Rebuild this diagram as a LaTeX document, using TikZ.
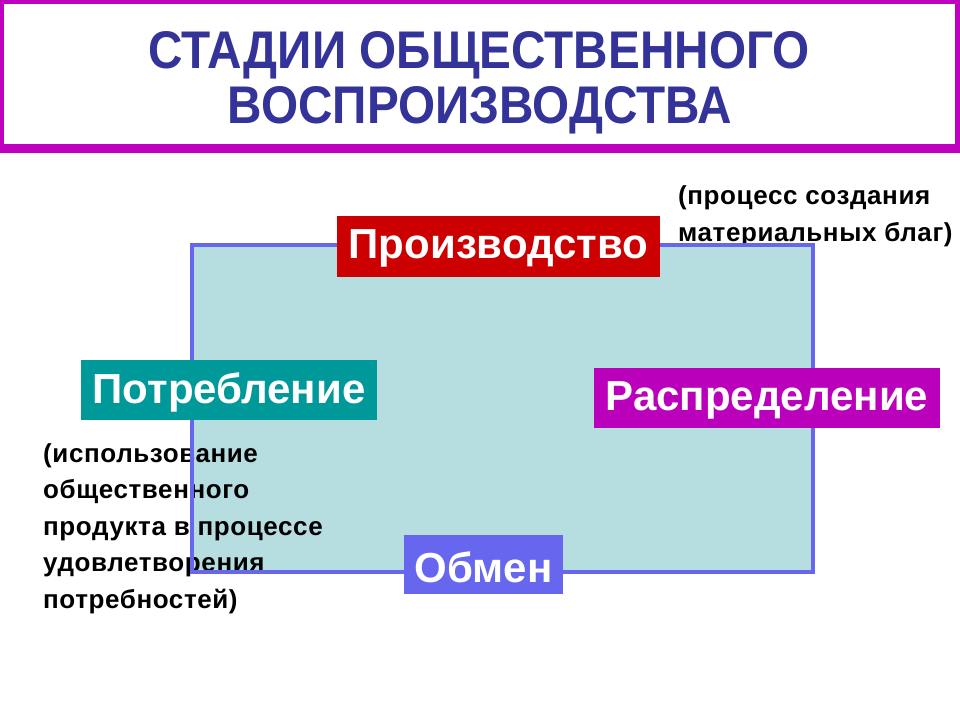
\documentclass[tikz,border=0pt]{standalone}
\usepackage{fontspec}
\setmainfont{Liberation Sans}
\newfontfamily\titlefont[FakeStretch=0.9]{Liberation Sans Bold}
\newfontfamily\boxfont{Liberation Sans Bold}
\newfontfamily\annfont[LetterSpace=2.3]{Liberation Sans Bold}
\definecolor{titlemag}{HTML}{C000C0}
\definecolor{titleblue}{HTML}{333399}
\definecolor{rectfill}{HTML}{B6DEE0}
\definecolor{rectline}{HTML}{6666EE}
\definecolor{prodred}{HTML}{CC0000}
\definecolor{distmag}{HTML}{BB00BB}
\definecolor{consteal}{HTML}{009999}
\definecolor{exchblue}{HTML}{6666EE}
\tikzset{
  stage/.style={inner sep=0pt, text=white, font=\boxfont\fontsize{42}{42}\selectfont},
  ann/.style={inner sep=0pt, align=left, anchor=base west, font=\annfont\fontsize{26}{36.5}\selectfont}
}
\begin{document}
\begin{tikzpicture}[x=1pt,y=-1pt]
\useasboundingbox (0,0) rectangle (960,720);
\fill[white] (0,0) rectangle (960,720);
% title frame
\fill[titlemag] (0,0) rectangle (960,153);
\fill[white] (4,4) rectangle (955,144);
\node[inner sep=0pt, anchor=base, text=titleblue, font=\titlefont\fontsize{53}{53}\selectfont] (t1) at (479,68) {СТАДИИ ОБЩЕСТВЕННОГО};
\node[inner sep=0pt, anchor=base, text=titleblue, font=\titlefont\fontsize{53}{53}\selectfont] (t2) at (480,123) {ВОСПРОИЗВОДСТВА};
% central rectangle
\fill[rectfill] (192,245) rectangle (813,572);
% annotations (base anchor = baseline of the last line)
\node[ann] (annR) at (678,241) {(процесс создания\\материальных благ)};
\node[ann] (annL) at (43,608) {(использование\\общественного\\продукта в процессе\\удовлетворения\\потребностей)};
\draw[rectline, line width=4pt] (192,245) rectangle (813,572);
% stage boxes
\fill[prodred] (337,216) rectangle (660,277);
\node[stage] (prod) at (498.5,248) {Производство};
\fill[distmag] (594,368) rectangle (940,428);
\node[stage] (dist) at (767,400) {Распределение};
\fill[consteal] (81,360) rectangle (377,420);
\node[stage] (cons) at (229,392) {Потребление};
\fill[exchblue] (404,535) rectangle (563,594);
\node[stage] (exch) at (483.5,567) {Обмен};
\end{tikzpicture}
\end{document}
